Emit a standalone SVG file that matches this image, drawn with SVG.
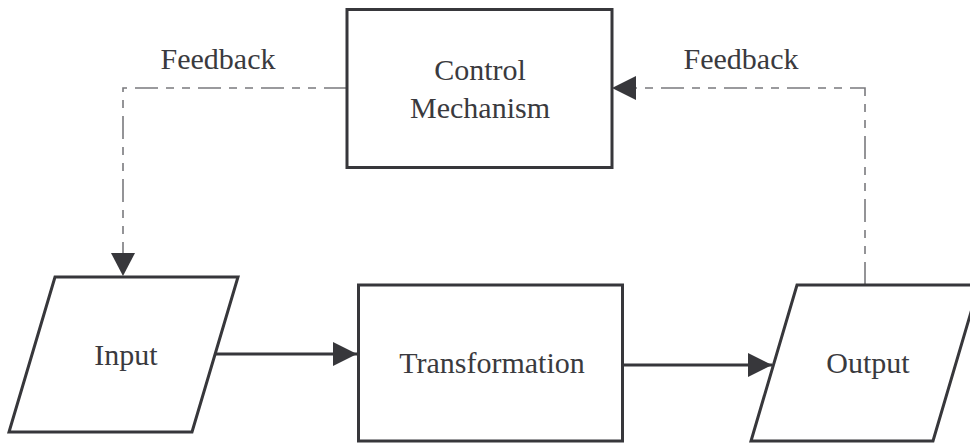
<svg xmlns="http://www.w3.org/2000/svg" width="970" height="444" viewBox="0 0 970 444">
  <defs>
    <style>
      .shape { fill: #ffffff; stroke: #37373b; stroke-width: 3; stroke-linejoin: miter; }
      .label { font-family: "Liberation Serif", "Times New Roman", serif; font-size: 30px; fill: #3a3a3e; text-anchor: middle; }
      .flow { fill: none; stroke: #37373b; stroke-width: 3; }
      .feedback { fill: none; stroke: #7a7a7e; stroke-width: 1.6; stroke-dasharray: 23 8 8 8 8 8; }
    </style>
    <marker id="head" viewBox="0 0 24 24" refX="24" refY="12" markerWidth="24" markerHeight="24" markerUnits="userSpaceOnUse" orient="auto">
      <path d="M0,0 L24,12 L0,24 Z" fill="#37373b"/>
    </marker>
  </defs>
  <rect width="970" height="444" fill="#ffffff"/>

  <g id="connectors">
    <!-- main flow -->
    <path class="flow" d="M216,354 H357" marker-end="url(#head)"/>
    <path class="flow" d="M623,365 H772" marker-end="url(#head)"/>
    <!-- feedback loops -->
    <path class="feedback" d="M347,88 H123 V254"/>
    <path d="M111,253 L135,253 L123,276 Z" fill="#37373b"/>
    <path class="feedback" d="M865,285 V88 H636"/>
    <path d="M636,76 L636,100 L612,88 Z" fill="#37373b"/>
    <text class="label" x="218" y="69">Feedback</text>
    <text class="label" x="741" y="69">Feedback</text>
  </g>

  <g id="control">
    <rect class="shape" x="347" y="9.5" width="265" height="158"/>
    <text class="label" x="480" y="80">Control</text>
    <text class="label" x="480" y="118">Mechanism</text>
  </g>

  <g id="input">
    <polygon class="shape" points="55,277 238,277 192,432 9,432"/>
    <text class="label" x="126" y="365">Input</text>
  </g>

  <g id="transformation">
    <rect class="shape" x="358.5" y="285" width="264" height="156"/>
    <text class="label" x="492" y="373">Transformation</text>
  </g>

  <g id="output">
    <polygon class="shape" points="797,285 979,285 933,441 751,441"/>
    <text class="label" x="868" y="373">Output</text>
  </g>
</svg>
